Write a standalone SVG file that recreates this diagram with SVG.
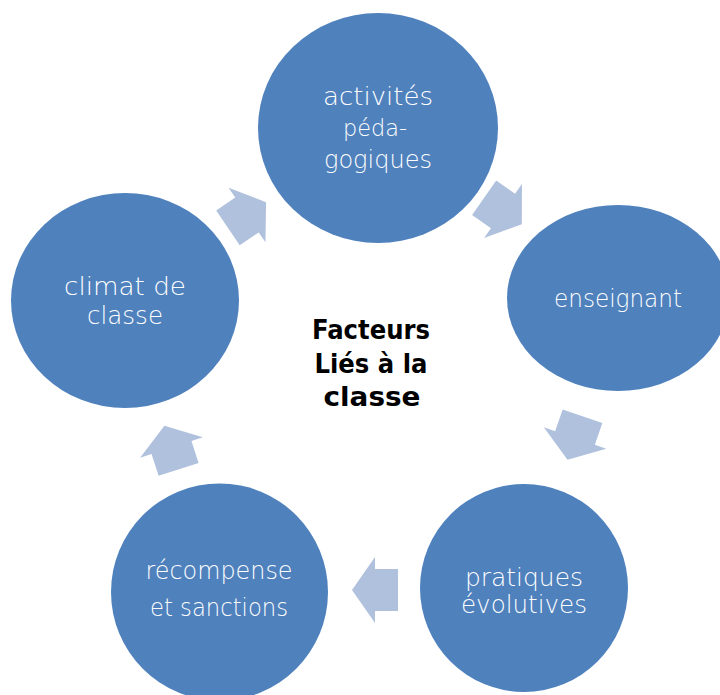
<svg xmlns="http://www.w3.org/2000/svg" width="720" height="695" viewBox="0 0 720 695">
<style>
.node{fill:#4F81BD}
.lbl{fill:#FFFFFF;font-family:"DejaVu Sans","Liberation Sans",sans-serif;font-weight:200;text-anchor:middle}
.arr{fill:#B0C1DD}
.ctr{fill:#000000;font-family:"DejaVu Sans","Liberation Sans",sans-serif;font-weight:bold;font-size:27px;text-anchor:middle}
</style>
<defs>
<polygon id="arrow" points="-23,-21 0,-21 0,-33 23,0 0,33 0,21 -23,21"/>
</defs>
<rect width="720" height="695" fill="#FFFFFF"/>
<g id="connectors">
<use href="#arrow" class="arr" transform="translate(247,215) rotate(-34)"/>
<use href="#arrow" class="arr" transform="translate(503,211) rotate(35)"/>
<use href="#arrow" class="arr" transform="translate(575,438) rotate(109)"/>
<use href="#arrow" class="arr" transform="translate(375,590) rotate(180)"/>
<use href="#arrow" class="arr" transform="translate(171.5,447.5) rotate(-108)"/>
</g>
<g id="node-activites">
<ellipse class="node" cx="378" cy="128" rx="120" ry="115"/>
<text class="lbl" x="378" y="105" font-size="25" textLength="110" lengthAdjust="spacingAndGlyphs">activités</text>
<text class="lbl" x="375" y="136" font-size="23" textLength="64" lengthAdjust="spacingAndGlyphs">péda-</text>
<text class="lbl" x="378" y="168" font-size="25" textLength="108" lengthAdjust="spacingAndGlyphs">gogiques</text>
</g>
<g id="node-enseignant">
<ellipse class="node" cx="618" cy="298" rx="111" ry="93"/>
<text class="lbl" x="618" y="307" font-size="24" textLength="128" lengthAdjust="spacingAndGlyphs">enseignant</text>
</g>
<g id="node-pratiques">
<circle class="node" cx="524" cy="588" r="104"/>
<text class="lbl" x="524" y="586" font-size="25" textLength="118" lengthAdjust="spacingAndGlyphs">pratiques</text>
<text class="lbl" x="524" y="613" font-size="25" textLength="126" lengthAdjust="spacingAndGlyphs">évolutives</text>
</g>
<g id="node-recompense">
<circle class="node" cx="219.5" cy="592" r="108.5"/>
<text class="lbl" x="219" y="579" font-size="24" textLength="147" lengthAdjust="spacingAndGlyphs">récompense</text>
<text class="lbl" x="219" y="616" font-size="24" textLength="138" lengthAdjust="spacingAndGlyphs">et sanctions</text>
</g>
<g id="node-climat">
<ellipse class="node" cx="125" cy="300.5" rx="114" ry="107.5"/>
<text class="lbl" x="125" y="295" font-size="25" textLength="122" lengthAdjust="spacingAndGlyphs">climat de</text>
<text class="lbl" x="125" y="324" font-size="25" textLength="76" lengthAdjust="spacingAndGlyphs">classe</text>
</g>
<g id="center-title">
<text class="ctr" x="371" y="339" textLength="118" lengthAdjust="spacingAndGlyphs">Facteurs</text>
<text class="ctr" x="371" y="373" textLength="113" lengthAdjust="spacingAndGlyphs">Liés à la</text>
<text class="ctr" x="372" y="406" textLength="97" lengthAdjust="spacingAndGlyphs">classe</text>
</g>
</svg>
